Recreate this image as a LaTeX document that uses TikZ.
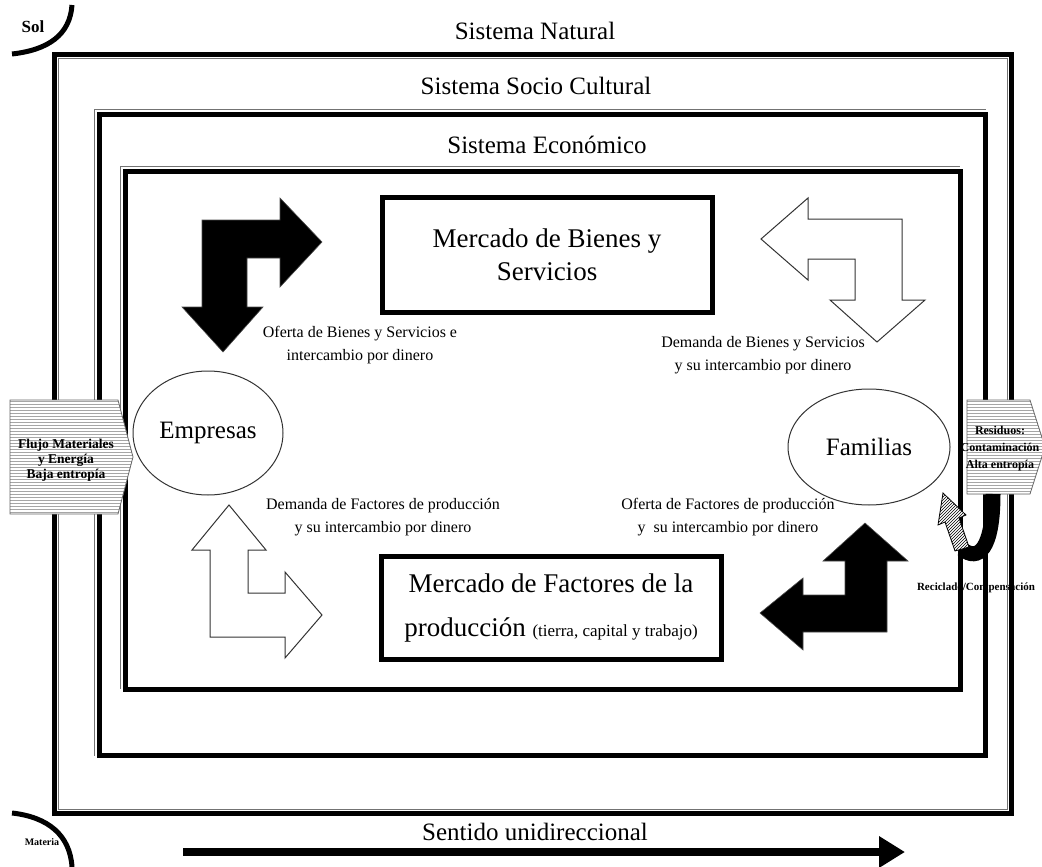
\documentclass[tikz,border=0pt]{standalone}
\usepackage{fontspec}
\setmainfont{Liberation Serif}
\usetikzlibrary{shapes.geometric,patterns,arrows.meta}

\tikzset{
  sistema/.style={draw=black, line width=5pt},
  fino/.style={draw=black!55, line width=0.8pt},
  titulo/.style={font=\fontsize{25}{30}\selectfont},
  mercado/.style={draw=black, line width=5pt, inner sep=0pt, align=center},
  agente/.style={ellipse, draw=black!80, line width=1pt, inner sep=0pt, font=\fontsize{25}{30}\selectfont},
  etiqueta/.style={align=center, font=\fontsize{16}{23}\selectfont},
  nota/.style={align=center, font=\bfseries},
  llena/.style={fill=black, draw=black!70, line width=0.6pt},
  vacia/.style={fill=white, draw=black!80, line width=1pt},
  flujo/.style={preaction={fill=white}, pattern=horizontal lines, pattern color=black!35, draw=black!60, line width=0.8pt},
  reciclo/.style={preaction={fill=white}, pattern=north east lines, draw=black, line width=0.8pt},
}

\begin{document}
\begin{tikzpicture}[x=1pt,y=-1pt]
	\useasboundingbox (0,0) rectangle (1042,867);
	\clip (0,0) rectangle (1042,867);
	
	% textos bajo las lineas
	\node[nota, font=\bfseries\fontsize{11}{13}\selectfont] (reciclado) at (976,588) {Reciclado/Compensación};
	\node[nota, font=\bfseries\fontsize{10}{12}\selectfont] (materia) at (42,842) {Materia};
	\node[nota, font=\bfseries\fontsize{17}{20}\selectfont] (sol) at (33,27) {Sol};
	
	% sistemas
	\draw[sistema] (54.5,54.5) rectangle (1011.5,813);
	\draw[fino] (58.5,58.5) rectangle (1007.5,809);
	\draw[fino] (94,755.5) |- (985.5,109.5);
	\draw[sistema] (99,114.5) rectangle (985.5,755.5);
	\draw[fino] (120,689) |- (960,166);
	\draw[sistema] (125,171) rectangle (960,689);
	
	\node[titulo, anchor=base] (natural) at (535,40) {Sistema Natural};
	\node[titulo, anchor=base] (socio) at (536,95) {Sistema Socio Cultural};
	\node[titulo, anchor=base] (economico) at (547,153) {Sistema Económico};
	
	% mercados
	\node[mercado, minimum width=330, minimum height=115, font=\fontsize{27}{33}\selectfont] (bienes) at (547,255) {Mercado de Bienes y\\Servicios};
	\node[mercado, minimum width=340, minimum height=103, font=\fontsize{27}{44}\selectfont] (factores) at (551,608) {Mercado de Factores de la\\producción {\fontsize{17}{20}\selectfont(tierra, capital y trabajo)}};
	
	% agentes
	\node[agente, minimum width=150, minimum height=124] (empresas) at (208,433) {Empresas};
	\node[agente, minimum width=162, minimum height=116] (familias) at (869,447) {Familias};
	
	\node[etiqueta] (ofertaB) at (360,345) {Oferta de Bienes y Servicios e\\intercambio por dinero};
	\node[etiqueta] (demandaB) at (763,355) {Demanda de Bienes y Servicios\\y su intercambio por dinero};
	\node[etiqueta] (demandaF) at (383,517) {Demanda de Factores de producción\\y su intercambio por dinero};
	\node[etiqueta] (ofertaF) at (728,517) {Oferta de Factores de producción\\y\ \ su intercambio por dinero};
	
	% oferta de bienes
	\filldraw[llena] (202,220) -- (280,220) -- (280,198) -- (322,242) -- (280,287) -- (280,258) -- (247,258) -- (247,307) -- (263,307) -- (223,352) -- (182,307) -- (202,307) -- cycle;
	% demanda de bienes
	\filldraw[vacia] (761,239) -- (808,198) -- (808,219) -- (902,219) -- (902,300) -- (925,300) -- (877,342) -- (830,300) -- (855,300) -- (855,259) -- (808,259) -- (808,280) -- cycle;
	% demanda de factores
	\filldraw[vacia] (229,505) -- (266,550) -- (248,550) -- (248,593) -- (285,593) -- (285,572) -- (322,615) -- (285,658) -- (285,637) -- (210,637) -- (210,550) -- (192,550) -- cycle;
	% oferta de factores
	\filldraw[llena] (865,523) -- (908,561) -- (887,561) -- (887,632) -- (803,632) -- (803,650) -- (760,613) -- (803,578) -- (803,595) -- (845,595) -- (845,561) -- (823,561) -- cycle;
	
	% entrada y salida
	\draw[flujo] (10,400) -- (118,400) -- (133,457) -- (118,514) -- (10,514) -- cycle;
	\node[nota, font=\bfseries\fontsize{13.5}{15}\selectfont] (entrada) at (66,460) {Flujo Materiales\\y Energía\\Baja entropía};
	\draw[flujo] (967,400) -- (1030,400) -- (1045,447) -- (1030,494) -- (967,494) -- cycle;
	\node[nota, font=\bfseries\fontsize{12}{17}\selectfont] (salida) at (1000,449) {Residuos:\\Contaminación\\Alta entropía};
	
	% reciclado
	\draw[line width=15pt] (993,494) .. controls (993,550) and (978,562) .. (962,549);
	\filldraw[reciclo] (955,551) -- (969,547) -- (959,518) -- (966,515) -- (943,493) -- (938,525) -- (945,522) -- cycle;
	
	% sol y materia
	\draw[line width=5pt] (12,54) .. controls (48,50) and (70,35) .. (72,5);
	\draw[line width=5pt] (12,813) .. controls (48,817) and (70,835) .. (72,867);
	
	% sentido
	\node[titulo, anchor=base] (sentido) at (535,840) {Sentido unidireccional};
	\coordinate (ini) at (183,852);
	\coordinate (fin) at (905,852);
	\draw[line width=8pt, -{Triangle[length=26pt,width=30pt]}] (ini) -- (fin);
\end{tikzpicture}
\end{document}
